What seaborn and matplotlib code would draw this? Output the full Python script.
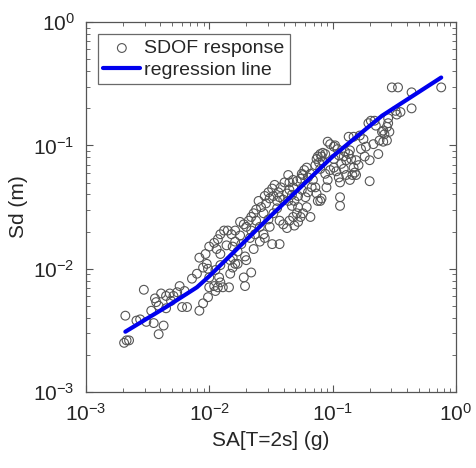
import numpy as np
import pandas as pd
import matplotlib
matplotlib.use("Agg")
import matplotlib.pyplot as plt
import seaborn as sns

# SDOF points as log10 values
sa_log = [
    -2.68, -2.69, -2.67, -2.65, -2.53, -2.56, -2.51, -2.45, -2.44, -2.43,
    -2.41, -2.39, -2.35, -2.32, -2.29, -2.41, -2.37, -2.35, -2.24, -2.22,
    -2.18, -2.26, -2.14, -2.08, -2.05, -2.01, -2.00, -2.03, -2.02, -2.01,
    -2.00, -1.96, -1.95, -1.93, -1.92, -1.91, -1.89, -1.84, -1.71, -1.72,
    -1.66, -2.00, -1.96, -1.93, -1.91, -1.88, -1.85, -1.82, -1.79, -1.79,
    -1.77, -1.75, -1.71, -1.70, -1.81, -1.79, -1.83, -1.91, -1.86, -1.94,
    -1.75, -1.72, -1.68, -1.66, -1.64, -1.62, -1.58, -1.56, -1.54, -1.51,
    -1.48, -1.45, -1.43, -1.40, -1.37, -1.35, -1.33, -1.32, -1.29, -1.26,
    -1.25, -1.23, -1.21, -1.49, -1.43, -1.59, -1.56, -1.55, -1.59, -1.43,
    -1.40, -1.37, -1.35, -1.32, -1.29, -1.31, -1.28, -1.26, -1.18, -1.36,
    -1.35, -1.32, -1.24, -1.20, -1.16, -1.14, -1.13, -1.12, -1.10, -1.09,
    -1.13, -1.12, -1.10, -1.09, -1.08, -1.06, -1.04, -1.02, -0.99, -0.98,
    -0.96, -1.02, -0.99, -0.97, -0.95, -0.94, -0.94, -0.94, -0.93, -0.91,
    -0.89, -0.87, -0.86, -0.85, -0.83, -0.82, -0.86, -0.84, -0.87, -0.83,
    -0.78, -0.75, -0.81, -0.79, -0.70, -0.70, -0.71, -0.69, -0.66, -0.65,
    -0.63, -0.62, -0.59, -0.58, -0.56, -0.59, -0.56, -0.55, -0.52, -0.47,
    -0.49, -0.48, -0.45, -0.36, -0.36, -0.12, -1.60, -1.55, -1.52, -1.49,
    -1.47, -1.44, -1.42, -1.39, -1.36, -1.33, -1.31, -1.28, -1.25, -1.22,
    -1.20, -1.17, -1.21, -1.28, -1.24, -1.18, -1.10, -1.06, -1.04, -1.05,
    -1.70, -1.66, -1.63, -1.62, -1.67, -1.74, -1.81, -1.64, -1.52, -1.48,
    -1.45, -1.51, -0.90, -0.77, -0.74, -0.73, -0.67, -0.99, -0.95, -0.81,
    -0.89, -0.91, -1.11, -1.08, -1.14, -1.83, -1.81, -1.77, -1.91, -1.95,
    -2.05, -2.08, -2.10, -2.20, -2.31, -2.47, -2.59, -0.60, -0.54, -0.55,
]
sd_log = [
    -2.38, -2.60, -2.58, -2.58, -2.17, -2.41, -2.43, -2.44, -2.24, -2.27,
    -2.30, -2.20, -2.22, -2.20, -2.22, -2.53, -2.46, -2.32, -2.14, -2.31,
    -2.31, -2.19, -2.08, -2.34, -2.28, -2.23, -2.15, -1.88, -1.96, -2.00,
    -2.07, -2.14, -2.18, -2.15, -2.07, -2.11, -2.15, -2.15, -2.14, -2.07,
    -2.03, -1.82, -1.79, -1.76, -1.72, -1.69, -1.69, -1.72, -1.69, -1.78,
    -1.86, -1.73, -1.90, -1.93, -1.91, -1.96, -1.93, -1.88, -1.81, -1.84,
    -1.62, -1.64, -1.61, -1.58, -1.55, -1.52, -1.50, -1.55, -1.47, -1.43,
    -1.41, -1.45, -1.42, -1.44, -1.39, -1.36, -1.40, -1.34, -1.29, -1.27,
    -1.23, -1.20, -1.18, -1.80, -1.80, -1.66, -1.72, -1.75, -1.78, -1.61,
    -1.64, -1.67, -1.61, -1.58, -1.55, -1.65, -1.62, -1.58, -1.58, -1.24,
    -1.30, -1.28, -1.24, -1.26, -1.28, -1.34, -1.39, -1.45, -1.45, -1.43,
    -1.11, -1.09, -1.07, -1.09, -1.13, -1.07, -0.97, -0.99, -1.01, -1.00,
    -1.03, -1.20, -1.18, -1.21, -1.26, -1.30, -1.42, -1.49, -1.15, -1.09,
    -1.12, -1.07, -1.04, -1.11, -1.18, -1.22, -1.28, -1.24, -0.93, -0.93,
    -0.92, -0.95, -1.12, -1.16, -1.12, -1.29, -0.82, -0.80, -0.80, -0.84,
    -1.07, -0.96, -0.97, -0.91, -0.96, -0.88, -0.85, -0.78, -0.53, -0.53,
    -0.72, -0.75, -0.73, -0.57, -0.70, -0.53, -1.45, -1.41, -1.38, -1.35,
    -1.32, -1.38, -1.34, -1.30, -1.45, -1.49, -1.45, -1.41, -1.36, -1.42,
    -1.38, -1.34, -1.50, -1.50, -1.55, -1.23, -1.19, -1.23, -1.28, -1.34,
    -1.66, -1.69, -1.72, -1.61, -1.75, -1.80, -1.82, -1.84, -1.60, -1.55,
    -1.51, -1.66, -1.05, -1.03, -1.09, -1.01, -0.99, -1.11, -1.08, -1.24,
    -1.24, -1.19, -1.14, -1.06, -1.16, -2.04, -1.99, -1.96, -1.97, -2.01,
    -1.99, -1.91, -2.04, -2.18, -2.26, -2.34, -2.42, -0.89, -0.89, -0.82,
]

# regression line, read at a few points (log10)
line_sa_log = [-2.68, -2.35, -2.10, -2.00, -1.50, -1.00, -0.60, -0.12]
line_sd_log = [-2.51, -2.31, -2.15, -2.06, -1.57, -1.09, -0.76, -0.45]

pts = pd.DataFrame({"SA": 10 ** np.array(sa_log), "Sd": 10 ** np.array(sd_log)})
fit = pd.DataFrame({"SA": 10 ** np.array(line_sa_log), "Sd": 10 ** np.array(line_sd_log)})

sns.set_style("white")
plt.rcParams["font.family"] = ["Liberation Sans", "DejaVu Sans"]
plt.rcParams["mathtext.fontset"] = "custom"
plt.rcParams["mathtext.rm"] = "Liberation Sans"
plt.rcParams["mathtext.it"] = "Liberation Sans"

fig = plt.figure(figsize=(4.77, 4.68), dpi=100)
ax = fig.add_axes([0.180, 0.162, 0.776, 0.791])

sns.scatterplot(data=pts, x="SA", y="Sd", ax=ax, marker="o", s=40,
                facecolors="none", edgecolor="#555555", linewidth=0.8,
                label="SDOF response", zorder=2)
sns.lineplot(data=fit, x="SA", y="Sd", ax=ax, color="#0000ee", linewidth=3,
             label="regression line", sort=False, zorder=3)

ax.set_xscale("log")
ax.set_yscale("log")
ax.set_xlim(1e-3, 1e0)
ax.set_ylim(1e-3, 1e0)
ax.set_xlabel("SA[T=2s] (g)", fontsize=15, color="#262626")
ax.set_ylabel("Sd (m)", fontsize=15, color="#262626")

ax.tick_params(which="both", direction="in", bottom=True, left=True,
               top=True, right=True, colors="#555555", labelcolor="#262626")
ax.tick_params(which="major", length=5, width=0.8, labelsize=15, pad=8)
ax.tick_params(which="minor", length=3, width=0.6)
for sp in ax.spines.values():
    sp.set_color("#555555")
    sp.set_linewidth(0.9)

leg = ax.legend(loc="upper left", fontsize=14, frameon=True, fancybox=False,
                borderpad=0.3, handlelength=1.9, handletextpad=0.2,
                labelspacing=0.2, borderaxespad=0.6)
leg.get_frame().set_edgecolor("#444444")
leg.get_frame().set_linewidth(0.9)

fig.savefig("out.png", dpi=100)
